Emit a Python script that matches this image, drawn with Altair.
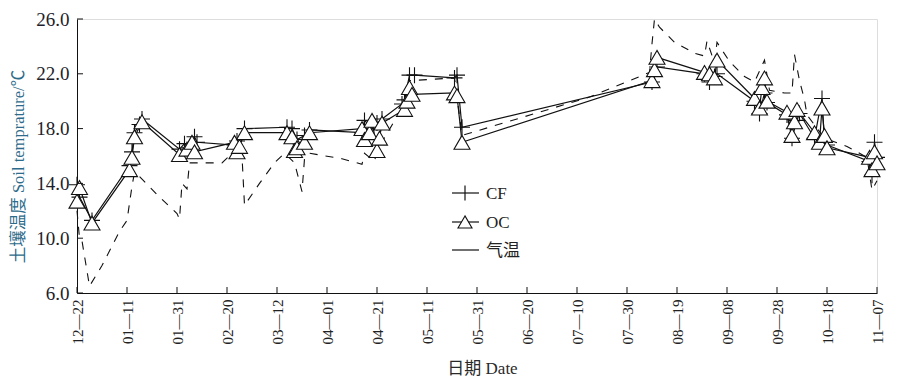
import altair as alt
import pandas as pd

# ---------------- data ----------------
tick_labels = ["12—22", "01—11", "01—31", "02—20", "03—12", "04—01", "04—21",
               "05—11", "05—31", "06—20", "07—10", "07—30", "08—19", "09—08",
               "09—28", "10—18", "11—07"]
tick_days = [0, 20, 40, 60, 80, 100, 120, 140, 160, 180, 200, 220, 240, 260,
             280, 300, 320]
y_ticks = [6, 10, 14, 18, 22, 26]

cf_dates = ["12-22", "12-23", "12-28", "01-12", "01-13", "01-14", "01-16", "01-17",
            "02-01", "02-03", "02-05", "02-07", "02-08", "02-23", "02-24", "02-27",
            "03-16", "03-18", "03-20", "03-23", "03-25", "04-15", "04-16", "04-19",
            "04-21", "04-23", "05-01", "05-02", "05-04", "05-06", "05-22", "05-23",
            "05-25", "08-09", "08-10", "08-11", "08-30", "09-01", "09-03", "09-04",
            "09-19", "09-21", "09-23", "09-24", "10-02", "10-04", "10-06", "10-07",
            "10-13", "10-16", "10-17", "10-18", "11-04", "11-05", "11-06", "11-07"]
cf_vals = [13.9, 13.0, 11.3, 15.3, 16.3, 17.7, 18.3, 18.7,
           16.5, 16.9, 16.6, 17.4, 17.0, 16.8, 17.1, 18.0,
           18.1, 18.0, 17.2, 17.5, 17.9, 17.7, 18.6, 18.0,
           18.4, 18.7, 19.8, 20.1, 21.9, 21.9, 21.7, 21.9,
           18.1, 21.4, 21.8, 22.5, 22.0, 21.4, 21.8, 22.0,
           20.0, 19.1, 20.6, 19.9, 19.0, 17.3, 18.6, 19.1,
           17.3, 20.2, 17.0, 16.8, 15.6, 14.6, 17.0, 15.9]

oc_dates = ["12-22", "12-23", "12-28", "01-12", "01-13", "01-14", "01-17",
            "02-01", "02-04", "02-06", "02-07", "02-23", "02-24", "02-25", "02-27",
            "03-16", "03-18", "03-19", "03-20", "03-23", "03-25", "04-15", "04-16",
            "04-18", "04-19", "04-21", "04-22", "04-23", "05-02", "05-03", "05-04",
            "05-05", "05-22", "05-23", "05-25", "08-09", "08-10", "08-11", "08-30",
            "09-01", "09-03", "09-04", "09-19", "09-21", "09-22", "09-23", "09-24",
            "10-02", "10-04", "10-05", "10-06", "10-13", "10-15", "10-16", "10-17",
            "10-18", "11-04", "11-05", "11-06", "11-07"]
oc_vals = [12.7, 13.7, 11.1, 15.0, 15.9, 17.4, 18.5,
           16.1, 16.5, 17.0, 16.3, 17.0, 16.3, 16.7, 17.7,
           17.7, 17.4, 16.4, 16.6, 17.0, 17.7, 18.0, 17.2,
           17.7, 18.6, 16.4, 17.3, 18.4, 19.4, 20.0, 21.0,
           20.5, 20.6, 20.4, 17.0, 21.5, 22.3, 23.2, 22.1,
           22.0, 21.7, 23.0, 20.2, 19.5, 21.0, 21.7, 20.0,
           19.2, 17.5, 18.5, 19.4, 17.7, 17.0, 19.5, 17.5,
           16.6, 15.9, 15.0, 16.3, 15.5]

air_dates = ["12-22", "12-23", "12-24", "12-27", "01-01", "01-08", "01-11", "01-13",
             "01-14", "01-16", "01-24", "01-31", "02-01", "02-02", "02-04", "02-05",
             "02-18", "02-22", "02-26", "02-27", "03-05", "03-11", "03-15", "03-19",
             "03-22", "03-23", "03-25", "04-07", "04-15", "04-16", "04-20", "04-21",
             "05-01", "05-04", "05-22", "05-25", "07-15", "08-08", "08-09", "08-10",
             "08-12", "08-18", "08-26", "08-30", "08-31", "09-03", "09-04", "09-09",
             "09-15", "09-19", "09-23", "09-25", "10-01", "10-04", "10-05", "10-07",
             "10-09", "10-10", "10-17", "10-26", "11-03", "11-05", "11-07"]
air_vals = [12.0, 10.0, 9.8, 6.5, 8.0, 10.5, 11.3, 13.8,
            14.8, 14.5, 13.0, 11.8, 11.4, 14.0, 13.6, 15.5,
            15.5, 16.2, 16.0, 12.4, 14.0, 15.5, 16.2, 15.5,
            13.4, 15.8, 16.2, 15.8, 15.4, 16.2, 15.6, 16.4,
            19.5, 21.5, 21.7, 17.5, 20.3, 22.1, 24.2, 26.0,
            25.4, 24.3, 23.5, 23.3, 24.4, 22.8, 24.3, 22.9,
            21.8, 21.4, 23.0, 20.8, 20.6, 20.6, 23.4, 21.5,
            20.1, 19.0, 17.3, 16.7, 15.9, 13.5, 14.2]

series_names = ["CF", "OC", "气温"]


def to_day(md):
    m, d = (int(p) for p in md.split("-"))
    year = 2018 if m == 12 else 2019
    return (pd.Timestamp(year, m, d) - pd.Timestamp(2018, 12, 22)).days


def frame(dates, vals):
    return pd.DataFrame({"day": [to_day(s) for s in dates], "value": vals,
                         "idx": list(range(len(vals)))})


cf_df = frame(cf_dates, cf_vals)
oc_df = frame(oc_dates, oc_vals)
air_df = frame(air_dates, air_vals)

FONT = "Times New Roman, Liberation Serif, Noto Sans CJK SC, serif"
INK = "#111111"
label_js = "[" + ",".join(f"'{s}'" for s in tick_labels) + "]"

x_scale = alt.Scale(domain=[0, 320], nice=False, zero=False)
y_scale = alt.Scale(domain=[6, 26], nice=False, zero=False)

X = alt.X("day:Q", scale=x_scale,
          axis=alt.Axis(values=tick_days, labelExpr=f"{label_js}[round(datum.value/20)]",
                        labelAngle=-90, labelFont=FONT, labelFontSize=15,
                        labelColor="#222222", labelPadding=6, ticks=False,
                        domainColor=INK, domainWidth=1, grid=False,
                        title="日期 Date", titleFont=FONT, titleFontSize=17,
                        titleFontWeight="normal", titleColor="#2a2a2a",
                        titleY=75, titleBaseline="middle", titleX=405))
Y = alt.Y("value:Q", scale=y_scale,
          axis=alt.Axis(values=y_ticks, format=".1f", labelFont=FONT, labelFontSize=19,
                        labelColor="#1e1e2a", labelPadding=8, ticks=False,
                        domainColor=INK, domainWidth=1, grid=False,
                        title="土壤温度 Soil temprature/℃", titleFont=FONT,
                        titleFontSize=16.5, titleFontWeight="normal",
                        titleColor="#2e6b8a", titleAngle=-90, titleX=-59, titleY=147,
                        titleAlign="center", titleBaseline="middle"))

cross_path = "M-1,0L1,0M0,-1L0,1"

air_line = alt.Chart(air_df).mark_line(color=INK, strokeWidth=1.1, strokeDash=[8, 8]).encode(
    x=X, y=Y, order="idx:Q")
cf_line = alt.Chart(cf_df).mark_line(color=INK, strokeWidth=1.2).encode(x=X, y=Y, order="idx:Q")
oc_line = alt.Chart(oc_df).mark_line(color=INK, strokeWidth=1.2).encode(x=X, y=Y, order="idx:Q")
cf_pts = alt.Chart(cf_df).mark_point(shape=cross_path, size=256, filled=False,
                                     stroke=INK, strokeWidth=1.1, opacity=1).encode(x=X, y=Y)
oc_pts = alt.Chart(oc_df).mark_point(shape="triangle-up", size=256, filled=True, fill="white",
                                     stroke=INK, strokeWidth=1.1, opacity=1).encode(x=X, y=Y)

# tick marks pointing inward
ytick_df = pd.DataFrame({"value": y_ticks})
xtick_df = pd.DataFrame({"day": tick_days})
y_tick_rules = alt.Chart(ytick_df).mark_rule(color=INK, strokeWidth=1).encode(
    y=alt.Y("value:Q", scale=y_scale), x=alt.value(0), x2=alt.value(6))
x_tick_rules = alt.Chart(xtick_df).mark_rule(color=INK, strokeWidth=1).encode(
    x=alt.X("day:Q", scale=x_scale), y=alt.value(274), y2=alt.value(268))

# manual legend
leg_rows = [174, 203, 231]
legend_layers = []
for name, yy in zip(series_names, leg_rows):
    ldf = pd.DataFrame({"name": [name]})
    base = alt.Chart(ldf)
    legend_layers.append(base.mark_rule(color=INK, strokeWidth=1.2).encode(
        x=alt.value(375), x2=alt.value(402), y=alt.value(yy)))
    legend_layers.append(base.mark_text(align="left", baseline="middle", font=FONT,
                                        fontSize=17, color="#222222").encode(
        x=alt.value(409), y=alt.value(yy + 1), text="name:N"))
legend_layers.append(alt.Chart(pd.DataFrame({"name": ["CF"]})).mark_point(
    shape="M0,-1L0,1", size=225, filled=False, stroke=INK, strokeWidth=1.2, opacity=1).encode(
    x=alt.value(388), y=alt.value(leg_rows[0])))
legend_layers.append(alt.Chart(pd.DataFrame({"name": ["OC"]})).mark_point(
    shape="triangle-up", size=196, filled=True, fill="white", stroke=INK, strokeWidth=1.1,
    opacity=1).encode(x=alt.value(388), y=alt.value(leg_rows[1])))

chart = alt.layer(air_line, cf_line, oc_line, cf_pts, oc_pts, y_tick_rules, x_tick_rules,
                  *legend_layers).properties(
    width=800, height=274,
    autosize=alt.AutoSizeParams(type="none"),
    padding={"left": 69, "top": 11, "right": 36, "bottom": 89},
).configure_view(stroke=None).configure(background="white")

chart.save("out.html", embed_options={"renderer": "svg", "actions": False})
